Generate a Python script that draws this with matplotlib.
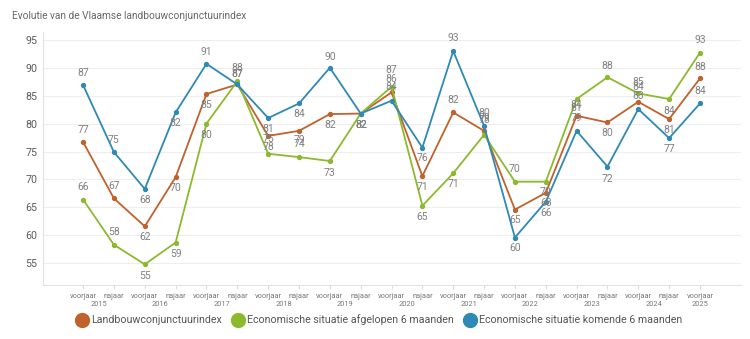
import matplotlib
matplotlib.use("Agg")
import matplotlib.pyplot as plt
from matplotlib.lines import Line2D
from matplotlib.transforms import blended_transform_factory

# ---- data ----
periods = ["voorjaar", "najaar"] * 10 + ["voorjaar"]
years = ["2015", "2016", "2017", "2018", "2019", "2020", "2021", "2022", "2023", "2024", "2025"]

landbouw = [76.7, 66.6, 61.6, 70.4, 85.3, 87.0, 77.8, 78.7, 81.7, 81.8, 85.6,
            70.6, 82.0, 78.7, 64.6, 67.6, 81.4, 80.2, 83.9, 80.8, 88.1]
afgelopen = [66.4, 58.3, 54.8, 58.7, 80.0, 87.6, 74.6, 74.0, 73.3, 81.8, 86.6,
             65.3, 71.1, 78.0, 69.6, 69.6, 84.4, 88.3, 85.4, 84.4, 92.7]
komende = [86.9, 74.9, 68.3, 82.0, 90.7, 87.0, 81.0, 83.6, 90.0, 81.8, 84.1,
           75.7, 93.0, 79.6, 59.6, 66.0, 78.7, 72.3, 82.6, 77.4, 83.6]

series_names = ["Landbouwconjunctuurindex",
                "Economische situatie afgelopen 6 maanden",
                "Economische situatie komende 6 maanden"]

# ---- style ----
colors = ["#C0622D", "#8DB92E", "#2E8AB5"]
# label offsets in screen pixels (positive = below the point)
off_landbouw = [-12.3, -12.3, 11, 11, 11, -10, 10.7, 9, 11.4, 11, -13.3, 11, -12.3,
                -13.3, 10, 10.4, -7.4, 10.6, -14.4, 11, -11.6]
off_afgelopen = [-12.6, -12.3, 11.4, 11.6, 11, -13.4, -14.3, -13.3, 11.7, 11, -16.6,
                 11, 10.7, -15, -12.7, 10.4, 6, -11.6, -11.6, 11.7, -12.7]
off_komende = [-12.3, -11.6, 11, 10.4, -12.3, -10, 11, 10.7, -11, 11, -13.3, 10.3,
               -12.7, -12.7, 10.7, 11.5, -12.7, 12.3, -13, 11, -12.6]

plt.rcParams['font.family'] = ['Roboto', 'DejaVu Sans']

W, H = 750, 339
fig = plt.figure(figsize=(W / 100, H / 100), dpi=100)
left, right, bottom, top = 43, 741, 285, 32
ax = fig.add_axes([left / W, 1 - bottom / H, (right - left) / W, (bottom - top) / H])

x = list(range(len(periods)))
all_series = [landbouw, afgelopen, komende]
all_offs = [off_landbouw, off_afgelopen, off_komende]

for vals, offs, c in zip(all_series, all_offs, colors):
    ax.plot(x, vals, color=c, lw=1.3, marker='o', markersize=2.8, zorder=3)

for vals, offs, c in zip(all_series, all_offs, colors):
    for xi, v, o in zip(x, vals, offs):
        ax.annotate(f"{v:.0f}", (xi, v), xytext=(0, -o * 0.72), textcoords='offset points',
                    ha='center', va='center', fontsize=7.5, color='#808080', zorder=4)

ax.set_xlim(-1.3, 21.33)
ax.set_ylim(51.1, 96.4)
ax.set_yticks([55, 60, 65, 70, 75, 80, 85, 90, 95])
ax.tick_params(axis='y', length=0, pad=4, labelsize=7.7, labelcolor='#5a5a5a')
ax.set_xticks(x)
ax.set_xticklabels(periods)
ax.tick_params(axis='x', length=3, color='#dddddd', pad=2.5, labelsize=5.3, labelcolor='#777777')

ax.grid(axis='y', color='#eeeeee', lw=0.8)
ax.set_axisbelow(True)
for s in ['top', 'right']:
    ax.spines[s].set_visible(False)
for s in ['left', 'bottom']:
    ax.spines[s].set_color('#e2e2e2')
    ax.spines[s].set_linewidth(0.8)

trans = blended_transform_factory(ax.transData, fig.transFigure)
for i, yr in enumerate(years):
    xc = 2 * i + 0.5 if i < len(years) - 1 else 2 * i
    ax.text(xc, 1 - 304 / H, yr, transform=trans, ha='center', va='center',
            fontsize=5.3, color='#777777')

fig.text(12 / W, 1 - 16 / H, "Evolutie van de Vlaamse landbouwconjunctuurindex",
         ha='left', va='center', fontsize=7.3, color='#666666')

handles = [Line2D([], [], color=c, marker='o', linestyle='none', markersize=10)
           for c in colors]
fig.legend(handles, series_names, loc='center', bbox_to_anchor=(0.505, 1 - 320 / H),
           ncol=3, frameon=False, fontsize=7.7, labelcolor='#555555', handletextpad=0.25,
           columnspacing=0.9, handlelength=1.2)

fig.savefig("out.png", dpi=100)
